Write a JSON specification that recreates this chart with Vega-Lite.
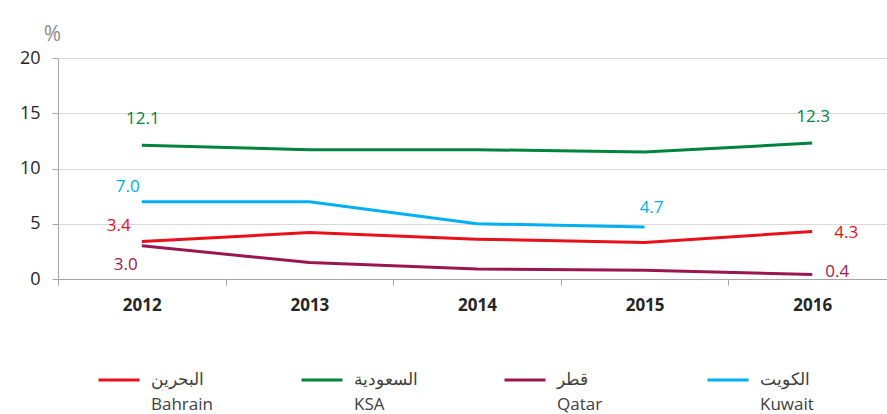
{
  "$schema": "https://vega.github.io/schema/vega-lite/v6.json",
  "width": 838,
  "height": 221,
  "autosize": {"type": "none"},
  "padding": {"left": 58, "top": 58, "right": 0, "bottom": 135},
  "background": "white",
  "config": {"view": {"stroke": null}, "font": "Open Sans"},
  "data": {
    "values": [
      {"country": "Bahrain", "year": 2012, "value": 3.4},
      {"country": "Bahrain", "year": 2013, "value": 4.2},
      {"country": "Bahrain", "year": 2014, "value": 3.6},
      {"country": "Bahrain", "year": 2015, "value": 3.3},
      {"country": "Bahrain", "year": 2016, "value": 4.3},
      {"country": "KSA", "year": 2012, "value": 12.1},
      {"country": "KSA", "year": 2013, "value": 11.7},
      {"country": "KSA", "year": 2014, "value": 11.7},
      {"country": "KSA", "year": 2015, "value": 11.5},
      {"country": "KSA", "year": 2016, "value": 12.3},
      {"country": "Qatar", "year": 2012, "value": 3.0},
      {"country": "Qatar", "year": 2013, "value": 1.5},
      {"country": "Qatar", "year": 2014, "value": 0.9},
      {"country": "Qatar", "year": 2015, "value": 0.8},
      {"country": "Qatar", "year": 2016, "value": 0.4},
      {"country": "Kuwait", "year": 2012, "value": 7.0},
      {"country": "Kuwait", "year": 2013, "value": 7.0},
      {"country": "Kuwait", "year": 2014, "value": 5.0},
      {"country": "Kuwait", "year": 2015, "value": 4.7}
    ]
  },
  "encoding": {
    "x": {
      "field": "year", "type": "ordinal", "bandPosition": 0.5,
      "scale": {"type": "band", "paddingInner": 0, "paddingOuter": 0},
      "axis": {
        "title": null, "labelAngle": 0, "labelFontWeight": "bold", "labelFontSize": 17,
        "labelColor": "#262626", "labelPadding": 12, "tickBand": "extent", "tickSize": 6,
        "tickColor": "#A6A6A6", "domainColor": "#A6A6A6", "grid": false
      }
    },
    "y": {
      "field": "value", "type": "quantitative",
      "scale": {"domain": [0, 20]},
      "axis": {
        "title": "%", "titleAngle": 0, "titleX": -6, "titleY": -24, "titleAlign": "center",
        "titleBaseline": "middle", "titleColor": "#8C8C8C", "titleFontWeight": "normal",
        "titleFontSize": 21, "values": [0, 5, 10, 15, 20], "labelFontSize": 18,
        "labelColor": "#262626", "labelPadding": 12, "tickSize": 6, "tickColor": "#A6A6A6",
        "domainColor": "#A6A6A6", "gridColor": "#D9D9D9"
      }
    },
    "color": {
      "field": "country", "type": "nominal",
      "scale": {
        "domain": ["Bahrain", "KSA", "Qatar", "Kuwait"],
        "range": ["#E8101A", "#00843D", "#9B1650", "#00B0F0"]
      }
    }
  },
  "layer": [
    {
      "mark": {"type": "line", "strokeWidth": 3},
      "encoding": {
        "color": {
          "field": "country", "type": "nominal",
          "legend": {
            "title": null, "orient": "none", "legendX": 39, "legendY": 300,
            "direction": "horizontal", "columns": 4, "gridAlign": "all", "columnPadding": 80,
            "symbolType": "stroke", "symbolSize": 1681, "symbolStrokeWidth": 3,
            "labelFontSize": 17, "labelColor": "#404040", "labelOffset": 10,
            "labelExpr": "[datum.label == 'Bahrain' ? 'البحرين' : datum.label == 'KSA' ? 'السعودية' : datum.label == 'Qatar' ? 'قطر' : 'الكويت', datum.label]",
            "labelLimit": 0,
            "encode": {"labels": {"update": {"lineHeight": {"value": 25}}}}
          }
        }
      }
    },
    {
      "transform": [{"filter": "datum.country == 'KSA' && (datum.year == 2012 || datum.year == 2016)"}],
      "mark": {"type": "text", "fontSize": 17, "dy": -26, "dx": 1},
      "encoding": {"text": {"field": "value", "format": ".1f"}}
    },
    {
      "transform": [{"filter": "datum.country == 'Kuwait' && datum.year == 2015"}],
      "mark": {"type": "text", "fontSize": 17, "dy": -19, "dx": 7},
      "encoding": {"text": {"field": "value", "format": ".1f"}}
    },
    {
      "transform": [{"filter": "datum.country == 'Kuwait' && datum.year == 2012"}],
      "mark": {"type": "text", "fontSize": 17, "dy": -15, "dx": -14},
      "encoding": {"text": {"field": "value", "format": ".1f"}}
    },
    {
      "transform": [{"filter": "datum.country == 'Bahrain' && datum.year == 2012"}],
      "mark": {"type": "text", "fontSize": 17, "dy": -15, "dx": -23},
      "encoding": {"text": {"field": "value", "format": ".1f"}}
    },
    {
      "transform": [{"filter": "datum.country == 'Qatar' && datum.year == 2012"}],
      "mark": {"type": "text", "fontSize": 17, "dy": 19, "dx": -16},
      "encoding": {"text": {"field": "value", "format": ".1f"}}
    },
    {
      "transform": [{"filter": "datum.country == 'Bahrain' && datum.year == 2016"}],
      "mark": {"type": "text", "fontSize": 17, "dy": 2, "dx": 22, "align": "left"},
      "encoding": {"text": {"field": "value", "format": ".1f"}}
    },
    {
      "transform": [{"filter": "datum.country == 'Qatar' && datum.year == 2016"}],
      "mark": {"type": "text", "fontSize": 17, "dy": -3, "dx": 13, "align": "left"},
      "encoding": {"text": {"field": "value", "format": ".1f"}}
    }
  ]
}
